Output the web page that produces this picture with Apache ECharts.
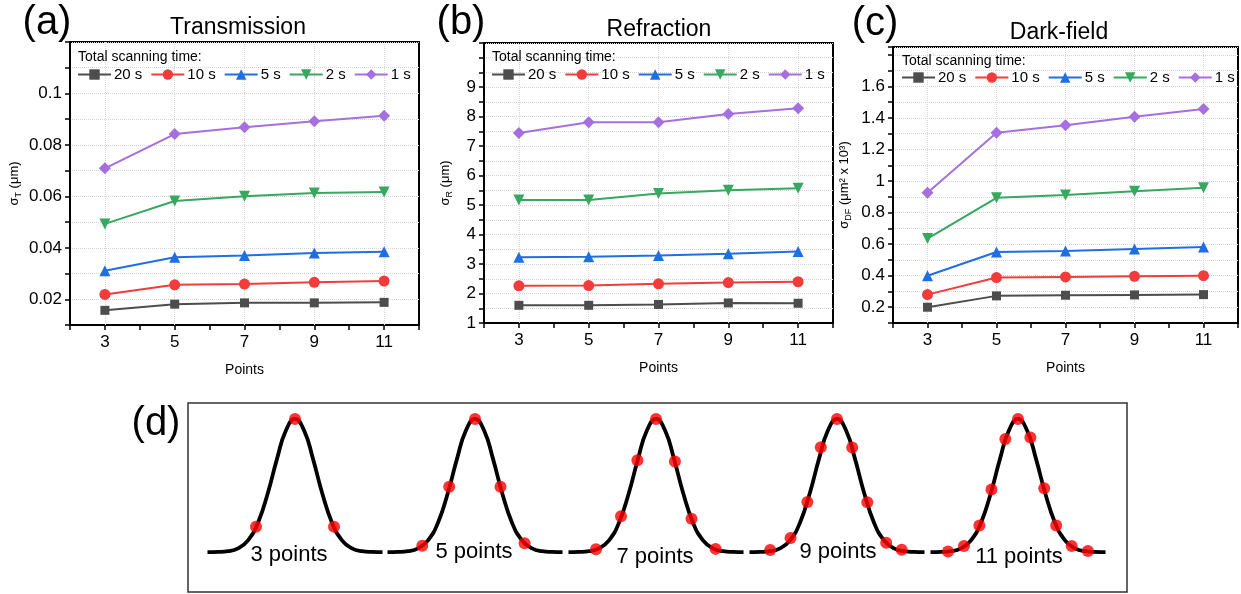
<!DOCTYPE html>
<html>
<head>
<meta charset="utf-8">
<script src="https://cdn.jsdelivr.net/npm/echarts@6/dist/echarts.min.js"></script>
<style>
  html, body { margin: 0; padding: 0; background: #fff; }
  #chart { width: 1241px; height: 594px; }
</style>
</head>
<body>
<div id="chart"></div>
<script>
// ---- data ----
const xPoints = [3, 5, 7, 9, 11];
const seriesNames = ["20 s", "10 s", "5 s", "2 s", "1 s"];

// (a) Transmission, sigma_T (um)
const trans20 = [0.0157, 0.0181, 0.0186, 0.0186, 0.0188];
const trans10 = [0.0219, 0.0256, 0.0259, 0.0266, 0.0271];
const trans5 = [0.0311, 0.0363, 0.0370, 0.0380, 0.0385];
const trans2 = [0.0493, 0.0582, 0.0600, 0.0613, 0.0617];
const trans1 = [0.0709, 0.0842, 0.0869, 0.0892, 0.0913];

// (b) Refraction, sigma_R (um)
const refr20 = [1.60, 1.60, 1.63, 1.68, 1.67];
const refr10 = [2.26, 2.27, 2.33, 2.37, 2.40];
const refr5 = [3.23, 3.25, 3.29, 3.35, 3.43];
const refr2 = [5.17, 5.17, 5.39, 5.50, 5.57];
const refr1 = [7.45, 7.81, 7.81, 8.09, 8.29];

// (c) Dark-field, sigma_DF (um^2 x 10^3)
const dark20 = [0.200, 0.272, 0.276, 0.278, 0.280];
const dark10 = [0.280, 0.388, 0.392, 0.396, 0.400];
const dark5 = [0.400, 0.550, 0.556, 0.569, 0.582];
const dark2 = [0.635, 0.894, 0.911, 0.936, 0.958];
const dark1 = [0.926, 1.306, 1.354, 1.407, 1.457];

// tick labels
const xTickLabels = [3, 5, 7, 9, 11];
const yTickLabelsA = [0.02, 0.04, 0.06, 0.08, 0.1];
const yTickLabelsB = [1, 2, 3, 4, 5, 6, 7, 8, 9];
const yTickLabelsC = [0.2, 0.4, 0.6, 0.8, 1, 1.2, 1.4, 1.6];

// (d) sampling sketch: peak positions, curve profile, sampled dots
const pointLabels = ["3 points", "5 points", "7 points", "9 points", "11 points"];
const peakPos = [107, 287, 468, 649, 830];
const labelPos = [101, 286, 467, 650, 831];
const labelLevel = [-0.02, 0, -0.035, 0, -0.04];
const curveOffsets = [-87.5, -77, -67, -57, -47, -37, -27, -18, -9, 0, 9, 18, 27, 37, 47, 57, 67, 77, 87.5];
const curveHeights = [0, 0.0015, 0.007, 0.028, 0.088, 0.221, 0.448, 0.70, 0.915, 1, 0.915, 0.70, 0.448, 0.221, 0.088, 0.028, 0.007, 0.0015, 0];
const dotOffsets = [
  [-39, 0, 39],
  [-52.7, -25.8, 0, 25.5, 49.6],
  [-60, -35, -18.6, 0, 18.9, 35.5, 59.6],
  [-66.8, -46.5, -29.6, -16.2, 0, 15.2, 30.3, 49.2, 64.7],
  [-70, -54, -38.6, -26.5, -12.7, 0, 12.4, 26.2, 38.2, 53.7, 69.9]
];
const dotHeights = [
  [0.19, 1, 0.19],
  [0.047, 0.49, 1, 0.49, 0.066],
  [0.022, 0.27, 0.69, 1, 0.68, 0.25, 0.024],
  [0.015, 0.105, 0.377, 0.788, 1, 0.786, 0.374, 0.07, 0.017],
  [0.004, 0.045, 0.2, 0.47, 0.85, 1, 0.86, 0.48, 0.2, 0.045, 0.008]
];

// ---- styling ----
const colors = ["#4d4d4d", "#f23c3c", "#1f6fe3", "#36a85f", "#a66fdf"];
const symbols = ["rect", "circle", "triangle", "triangle", "diamond"];
const symbolRot = [0, 0, 0, 180, 0];
const symbolSizes = [9, 11, 11, 11, 12];
const FONT = "'Liberation Sans', Arial, sans-serif";

const panels = [
  { data: [trans20, trans10, trans5, trans2, trans1], labels: yTickLabelsA, min: 0.01, max: 0.12, step: 0.01,
    grid: { left: 70, top: 42, width: 349, height: 283 },
    name: "{s|σ}{sub|T}{s| (μm)}", nameGap: 47 },
  { data: [refr20, refr10, refr5, refr2, refr1], labels: yTickLabelsB, min: 1, max: 10.5, step: 0.5,
    grid: { left: 484, top: 43, width: 349, height: 280 },
    name: "{s|σ}{sub|R}{s| (μm)}", nameGap: 30 },
  { data: [dark20, dark10, dark5, dark2, dark1], labels: yTickLabelsC, min: 0.1, max: 1.85, step: 0.1,
    grid: { left: 893, top: 47, width: 345, height: 276 },
    name: "{s|σ}{sub|DF}{s| (μm² x 10³)}", nameGap: 40 }
];

function isLabel(list, v) {
  return list.some(function (l) { return Math.abs(l - v) < 1e-7; });
}

var chart = echarts.init(document.getElementById("chart"));

var grids = [], xAxes = [], yAxes = [], series = [], legends = [];

panels.forEach(function (p, pi) {
  grids.push(Object.assign({ show: true, borderColor: "#000", borderWidth: 2, backgroundColor: "#fff" }, p.grid));
  xAxes.push({
    gridIndex: pi, type: "value", min: 2, max: 12, interval: 1,
    axisLine: { show: true, onZero: false, lineStyle: { color: "#000", width: 2 } },
    axisTick: { show: true, length: 5, lineStyle: { color: "#000", width: 1.5 } },
    axisLabel: {
      color: "#000", fontSize: 17, fontFamily: FONT, margin: 9,
      formatter: function (v) { return isLabel(xTickLabels, v) ? String(v) : ""; }
    },
    splitLine: { show: false },
    name: "Points", nameLocation: "middle", nameGap: 38,
    nameTextStyle: { color: "#000", fontSize: 14, fontFamily: FONT }
  });
  yAxes.push({
    gridIndex: pi, type: "value", min: p.min, max: p.max, interval: p.step,
    axisLine: { show: true, onZero: false, lineStyle: { color: "#000", width: 2 } },
    axisTick: { show: true, length: 5, lineStyle: { color: "#000", width: 1.5 } },
    axisLabel: {
      color: "#000", fontSize: 17, fontFamily: FONT, margin: 8, showMaxLabel: true,
      formatter: function (v) { return isLabel(p.labels, v) ? String(parseFloat(v.toFixed(3))) : ""; }
    },
    splitLine: { show: true, lineStyle: { color: "#d6d6d6", type: "dotted", width: 1 } },
    name: p.name, nameLocation: "middle", nameGap: p.nameGap, nameRotate: 90,
    nameTextStyle: {
      color: "#000", fontFamily: FONT,
      rich: {
        s: { fontSize: 13, fontFamily: FONT, color: "#000", lineHeight: 18 },
        sub: { fontSize: 9, fontFamily: FONT, color: "#000", verticalAlign: "bottom", lineHeight: 18 }
      }
    }
  });
  // vertical dotted grid lines at the sampled points only
  series.push({
    type: "line", xAxisIndex: pi, yAxisIndex: pi, data: [], silent: true,
    markLine: {
      silent: true, symbol: "none", z: 1, animation: false,
      label: { show: false },
      lineStyle: { color: "#d6d6d6", type: "dotted", width: 1 },
      data: xPoints.map(function (x) { return { xAxis: x }; })
    }
  });
  p.data.forEach(function (vals, si) {
    series.push({
      type: "line", name: seriesNames[si], xAxisIndex: pi, yAxisIndex: pi, z: 3,
      data: xPoints.map(function (x, k) { return [x, vals[k]]; }),
      symbol: symbols[si], symbolSize: symbolSizes[si], symbolRotate: symbolRot[si],
      color: colors[si],
      itemStyle: { color: colors[si] },
      lineStyle: { color: colors[si], width: 2 }
    });
  });
});

// legends: one per panel
var legendPos = [{ left: 77, top: 67 }, { left: 491, top: 67 }, { left: 901, top: 70 }];
legendPos.forEach(function (lp) {
  legends.push(Object.assign({
    data: seriesNames, orient: "horizontal", itemWidth: 33, itemHeight: 13, itemGap: 8,
    padding: 0, selectedMode: false,
    textStyle: { color: "#000", fontSize: 15, fontFamily: FONT, padding: [0, 0, 0, -2] }
  }, lp));
});

// panel (d)
grids.push({ show: true, left: 188, top: 403, width: 939, height: 189, borderColor: "#333", borderWidth: 1.5, backgroundColor: "#fff" });
xAxes.push({ gridIndex: 3, type: "value", min: 0, max: 939, show: false });
yAxes.push({ gridIndex: 3, type: "value", min: -0.30, max: 1.12, show: false });

peakPos.forEach(function (pk, k) {
  series.push({
    type: "line", xAxisIndex: 3, yAxisIndex: 3, symbol: "none", smooth: 0.5,
    lineStyle: { color: "#000", width: 3.8 }, z: 2, silent: true,
    data: curveOffsets.map(function (o, j) { return [pk + o, curveHeights[j]]; })
  });
  series.push({
    type: "scatter", xAxisIndex: 3, yAxisIndex: 3, symbol: "circle", symbolSize: 12, z: 4, silent: true,
    itemStyle: { color: "#ff0000" },
    data: dotOffsets[k].map(function (o, j) { return [pk + o, dotHeights[k][j]]; })
  });
});
series.push({
  type: "scatter", xAxisIndex: 3, yAxisIndex: 3, symbolSize: 1, z: 5, silent: true,
  itemStyle: { color: "#000", opacity: 0 },
  label: {
    show: true, position: "inside", formatter: "{b}", color: "#000", opacity: 1,
    textBorderWidth: 0, fontSize: 22, fontFamily: FONT
  },
  data: labelPos.map(function (x, k) { return { name: pointLabels[k], value: [x, labelLevel[k]] }; })
});

function txt(x, y, text, size, align) {
  return {
    type: "text", x: x, y: y, z: 100, silent: true,
    style: { text: text, fill: "#000", font: size + "px " + FONT, align: align || "center", verticalAlign: "middle" }
  };
}

var option = {
  animation: false,
  backgroundColor: "#fff",
  grid: grids,
  xAxis: xAxes,
  yAxis: yAxes,
  legend: legends,
  series: series,
  graphic: [
    txt(47, 23, "(a)", 40), txt(461, 23, "(b)", 40), txt(875, 24, "(c)", 40), txt(156, 424, "(d)", 40),
    txt(238, 28, "Transmission", 23), txt(659, 30, "Refraction", 23), txt(1059, 33, "Dark-field", 23),
    txt(78, 57, "Total scanning time:", 14, "left"),
    txt(492, 57, "Total scanning time:", 14, "left"),
    txt(902, 61, "Total scanning time:", 14, "left")
  ]
};

chart.setOption(option);
</script>
</body>
</html>
